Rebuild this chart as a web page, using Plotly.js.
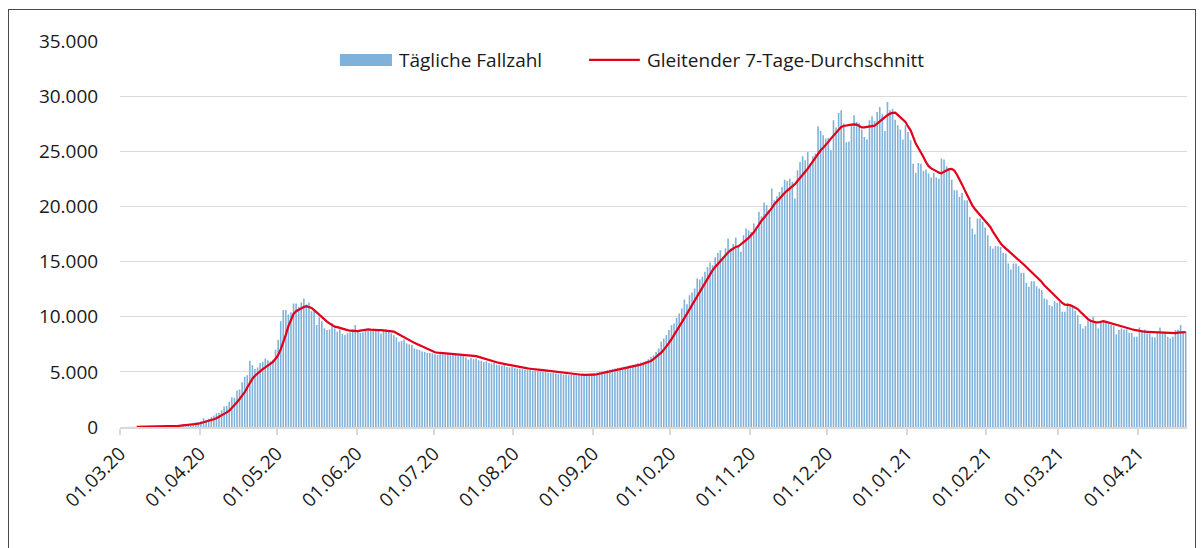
<!DOCTYPE html>
<html>
<head>
<meta charset="utf-8">
<script src="https://cdn.plot.ly/plotly-3.0.1.min.js"></script>
<style>
  html, body { margin: 0; padding: 0; background: #ffffff; }
  #wrap { position: relative; width: 1203px; height: 548px; overflow: hidden; }
  #chart { position: absolute; left: 0; top: 0; width: 1203px; height: 548px; }
  #frame { position: absolute; left: 8px; top: 9px; width: 1186px; height: 560px; border: 1px solid #4a4a4a; pointer-events: none; }
</style>
</head>
<body>
<div id="wrap">
  <div id="chart"></div>
  <div id="frame"></div>
</div>
<script>
// ---- Data (one value per day, starting 01.03.2020) ----
const startDate = '2020-03-01';

const seriesBarName = 'Tägliche Fallzahl';
const seriesLineName = 'Gleitender 7-Tage-Durchschnitt';

const dailyCases = [
  5, 8, 10, 12, 15, 20, 20,
  18, 26, 30, 30, 40, 45, 50,
  60, 58, 75, 85, 90, 110, 125,
  140, 160, 175, 220, 250, 260, 320,
  380, 420, 470, 520, 800, 640, 760,
  880, 1050, 1250, 1300, 1520, 1850, 1920,
  2300, 2700, 2650, 3300, 3400, 4050, 4560,
  4700, 6000, 5600, 5250, 5400, 5800, 5900,
  6200, 6050, 5950, 6100, 7000, 7900, 9600,
  10600, 10600, 10200, 10400, 11200, 11200, 10900,
  11300, 11650, 11100, 11300, 10500, 10500, 9250,
  9950, 9600, 8950, 8800, 8850, 9400, 8950,
  8650, 8850, 8450, 8350, 8500, 8600, 8850,
  9250, 8800, 8550, 8600, 8800, 8700, 8750,
  8900, 8800, 8750, 8480, 8700, 8850, 8720,
  8500, 8330, 8120, 7730, 7790, 7940, 7580,
  7500, 7430, 7130, 7050, 6980, 6850, 6820,
  6730, 6700, 6670, 6600, 6520, 6650, 6600,
  6580, 6620, 6500, 6560, 6540, 6480, 6500,
  6450, 6300, 6100, 6250, 6150, 6200, 6050,
  6000, 5900, 5950, 5800, 5750, 5800, 5650,
  5600, 5550, 5600, 5450, 5400, 5450, 5350,
  5300, 5280, 5250, 5200, 5150, 5200, 5100,
  5130, 5100, 5050, 5000, 5050, 4950, 4900,
  4900, 4850, 4800, 4820, 4750, 4780, 4700,
  4720, 4700, 4680, 4700, 4690, 4720, 4760,
  4800, 4850, 4900, 4950, 5000, 5050, 5080,
  5150, 5200, 5250, 5300, 5350, 5400, 5450,
  5480, 5550, 5600, 5650, 5700, 5770, 5850,
  5900, 5980, 6150, 6370, 6500, 6800, 7130,
  7730, 8030, 8330, 8800, 9240, 9390, 9900,
  10300, 10750, 11560, 11140, 11950, 12200, 12560,
  13470, 13380, 13620, 14070, 14500, 14920, 14670,
  15400, 15790, 16030, 15430, 16200, 17090, 16180,
  16600, 17180, 16490, 15880, 17390, 17990, 17840,
  17690, 18450, 18140, 19510, 19110, 20350, 20110,
  19660, 21620, 20560, 20920, 21310, 21770, 22430,
  22310, 22520, 22220, 20720, 23280, 24030, 24550,
  24190, 24940, 23880, 24550, 24790, 27260, 26840,
  26450, 26150, 26210, 25090, 27810, 27150, 28470,
  28710, 27510, 25810, 25870, 27360, 28260, 27660,
  27570, 26970, 26300, 26060, 27810, 28170, 27740,
  28560, 29010, 28350, 26840, 29470, 28710, 28860,
  27870, 27360, 26970, 26060, 27360, 26750, 25990,
  23880, 23040, 23940, 23880, 23220, 23340, 22980,
  22620, 23040, 22620, 22520, 24340, 24250, 23640,
  23280, 22430, 21470, 21470, 20860, 21220, 20560,
  20560, 19050, 18000, 17480, 18900, 18900, 18600,
  18090, 17390, 16400, 16190, 16400, 16400, 16330,
  15790, 15730, 14830, 14280, 14830, 14830, 14580,
  13980, 13980, 13070, 12710, 13220, 13220, 12770,
  12560, 12410, 11660, 11570, 11050, 10960, 11410,
  11260, 11350, 10450, 10450, 11260, 10960, 10900,
  10530, 10150, 9330, 8940, 9150, 9690, 9690,
  9990, 9390, 8940, 9630, 9630, 9450, 9330,
  9240, 9150, 8400, 8790, 8940, 8850, 8850,
  8540, 8540, 8180, 8180, 9030, 8630, 8850,
  8480, 8480, 8180, 8120, 8540, 9030, 8540,
  8540, 8180, 8030, 8180, 8790, 8850, 9240,
  8630, 8630
];

const movingAverage7 = [
  null, null, null, null, null, null, 10,
  12, 14, 17, 20, 24, 28, 32,
  36, 40, 48, 55, 62, 70, 80,
  92, 105, 120, 135, 150, 180, 210,
  240, 270, 300, 360, 420, 480, 540,
  620, 700, 790, 910, 1030, 1170, 1320,
  1480, 1720, 1970, 2250, 2540, 2820, 3150,
  3580, 3990, 4380, 4650, 4870, 5080, 5250,
  5400, 5580, 5750, 5910, 6180, 6520, 7040,
  7650, 8370, 9150, 9750, 10250, 10500, 10650,
  10750, 10870, 10960, 10900, 10800, 10600, 10380,
  10150, 9950, 9750, 9550, 9400, 9250, 9100,
  9050, 8970, 8900, 8850, 8780, 8730, 8710,
  8700, 8700, 8740, 8790, 8830, 8850, 8830,
  8800, 8790, 8790, 8780, 8760, 8750, 8730,
  8720, 8650, 8530, 8400, 8250, 8100, 7970,
  7850, 7740, 7630, 7530, 7420, 7290, 7160,
  7040, 6930, 6850, 6780, 6740, 6720, 6700,
  6680, 6670, 6650, 6630, 6610, 6590, 6570,
  6555, 6540, 6520, 6490, 6460, 6430, 6360,
  6280, 6200, 6120, 6050, 5980, 5920, 5870,
  5810, 5760, 5710, 5660, 5610, 5560, 5510,
  5460, 5420, 5390, 5350, 5310, 5280, 5240,
  5220, 5200, 5180, 5160, 5130, 5110, 5080,
  5040, 5000, 4960, 4930, 4890, 4860, 4840,
  4820, 4800, 4780, 4760, 4740, 4720, 4710,
  4710, 4720, 4740, 4780, 4830, 4880, 4940,
  4990, 5030, 5070, 5110, 5150, 5200, 5250,
  5310, 5370, 5430, 5490, 5550, 5600, 5660,
  5730, 5810, 5900, 5990, 6150, 6330, 6500,
  6740, 7000, 7270, 7620, 7970, 8320, 8690,
  9090, 9480, 9870, 10270, 10680, 11100, 11500,
  11900, 12300, 12710, 13120, 13500, 13870, 14220,
  14510, 14790, 15050, 15330, 15600, 15830, 16030,
  16210, 16330, 16390, 16550, 16750, 16940, 17150,
  17380, 17650, 18000, 18380, 18700, 18980, 19250,
  19540, 19850, 20200, 20470, 20760, 20990, 21220,
  21440, 21630, 21800, 22020, 22310, 22560, 22850,
  23150, 23430, 23780, 24130, 24480, 24780, 25090,
  25330, 25560, 25850, 26150, 26400, 26700, 26980,
  27200, 27290, 27350, 27380, 27410, 27440, 27420,
  27300, 27170, 27170, 27220, 27260, 27290, 27330,
  27500, 27720, 27940, 28100, 28270, 28420, 28480,
  28500, 28300, 28080, 27850, 27650, 27250, 26900,
  26300, 25700, 25300, 24940, 24480, 24000, 23650,
  23450, 23290, 23200, 23060, 23000, 23150, 23300,
  23380, 23400, 23250, 22900, 22500, 22000, 21500,
  21030, 20550, 20100, 19770, 19500, 19150, 18950,
  18700, 18400, 18140, 17720, 17330, 17000, 16650,
  16400, 16200, 15990, 15790, 15590, 15400, 15180,
  14950, 14730, 14500, 14280, 14070, 13840, 13610,
  13380, 13140, 12860, 12630, 12400, 12170, 11940,
  11660, 11450, 11250, 11100, 11070, 11050, 10950,
  10820, 10690, 10450, 10200, 9970, 9780, 9630,
  9540, 9490, 9480, 9530, 9590, 9530, 9450,
  9390, 9330, 9270, 9200, 9130, 9050, 8980,
  8910, 8860, 8810, 8760, 8720, 8680, 8640,
  8630, 8620, 8610, 8600, 8600, 8590, 8560,
  8530, 8500, 8490, 8490, 8520, 8550, 8580,
  8600, 8610
];

// axis settings
const xRange = ['2020-03-01', '2021-04-20'];
const yTickValues = [0, 5000, 10000, 15000, 20000, 25000, 30000, 35000];

// ---- Build day positions (bar centred in its day) ----
function dayCentre(i) {
  const d = new Date(startDate + 'T12:00:00Z');
  d.setUTCDate(d.getUTCDate() + i);
  return d.toISOString().slice(0, 10) + ' 12:00';
}
const days = dailyCases.map((_, i) => dayCentre(i));

const barColor = '#7fb2da';
const lineColor = '#e2001a';
const gridColor = '#d9d9d9';
const fontFamily = '"Open Sans", "Noto Sans", sans-serif';

const traces = [
  {
    type: 'bar',
    name: seriesBarName,
    x: days,
    y: dailyCases,
    marker: { color: barColor, line: { width: 0 } },
    showlegend: false,
    hoverinfo: 'x+y'
  },
  {
    type: 'scatter',
    mode: 'lines',
    name: seriesLineName,
    x: days,
    y: movingAverage7,
    line: { color: lineColor, width: 2.2 },
    connectgaps: false,
    showlegend: false,
    hoverinfo: 'x+y'
  }
];

const layout = {
  width: 1203,
  height: 548,
  margin: { l: 120, r: 16, t: 41, b: 121, pad: 0 },
  paper_bgcolor: '#ffffff',
  plot_bgcolor: '#ffffff',
  separators: ',.',
  font: { family: fontFamily, size: 19, color: '#1a1a1a' },
  bargap: 0.38,
  showlegend: false,
  xaxis: {
    type: 'date',
    range: xRange,
    tick0: '2020-03-01',
    dtick: 'M1',
    tickformat: '%d.%m.%y',
    tickangle: -45,
    ticks: 'outside',
    ticklen: 6,
    tickwidth: 2,
    tickcolor: gridColor,
    showline: true,
    linecolor: gridColor,
    linewidth: 2,
    showgrid: false,
    zeroline: false,
    tickfont: { family: fontFamily, size: 19, color: '#1a1a1a' },
    fixedrange: true
  },
  yaxis: {
    range: [0, 35000],
    tickvals: yTickValues,
    tickformat: ',d',
    showgrid: true,
    gridcolor: gridColor,
    gridwidth: 1,
    zeroline: false,
    showline: false,
    ticks: 'outside',
    ticklen: 17,
    tickcolor: 'rgba(0,0,0,0)',
    tickfont: { family: fontFamily, size: 19, color: '#1a1a1a' },
    fixedrange: true
  },
  shapes: [
    { type: 'rect', xref: 'paper', yref: 'paper', x0: 0.2061, x1: 0.2549, y0: 0.935, y1: 0.966,
      fillcolor: barColor, line: { width: 0 } },
    { type: 'line', xref: 'paper', yref: 'paper', x0: 0.4395, x1: 0.4872, y0: 0.951, y1: 0.951,
      line: { color: lineColor, width: 2.2 } }
  ],
  annotations: [
    { xref: 'paper', yref: 'paper', x: 0.2600, y: 0.951, xanchor: 'left', yanchor: 'middle',
      text: seriesBarName, showarrow: false, font: { family: fontFamily, size: 19, color: '#1a1a1a' } },
    { xref: 'paper', yref: 'paper', x: 0.4925, y: 0.951, xanchor: 'left', yanchor: 'middle',
      text: seriesLineName, showarrow: false, font: { family: fontFamily, size: 19, color: '#1a1a1a' } }
  ]
};

Plotly.newPlot('chart', traces, layout, { staticPlot: true, displayModeBar: false });
</script>
</body>
</html>
